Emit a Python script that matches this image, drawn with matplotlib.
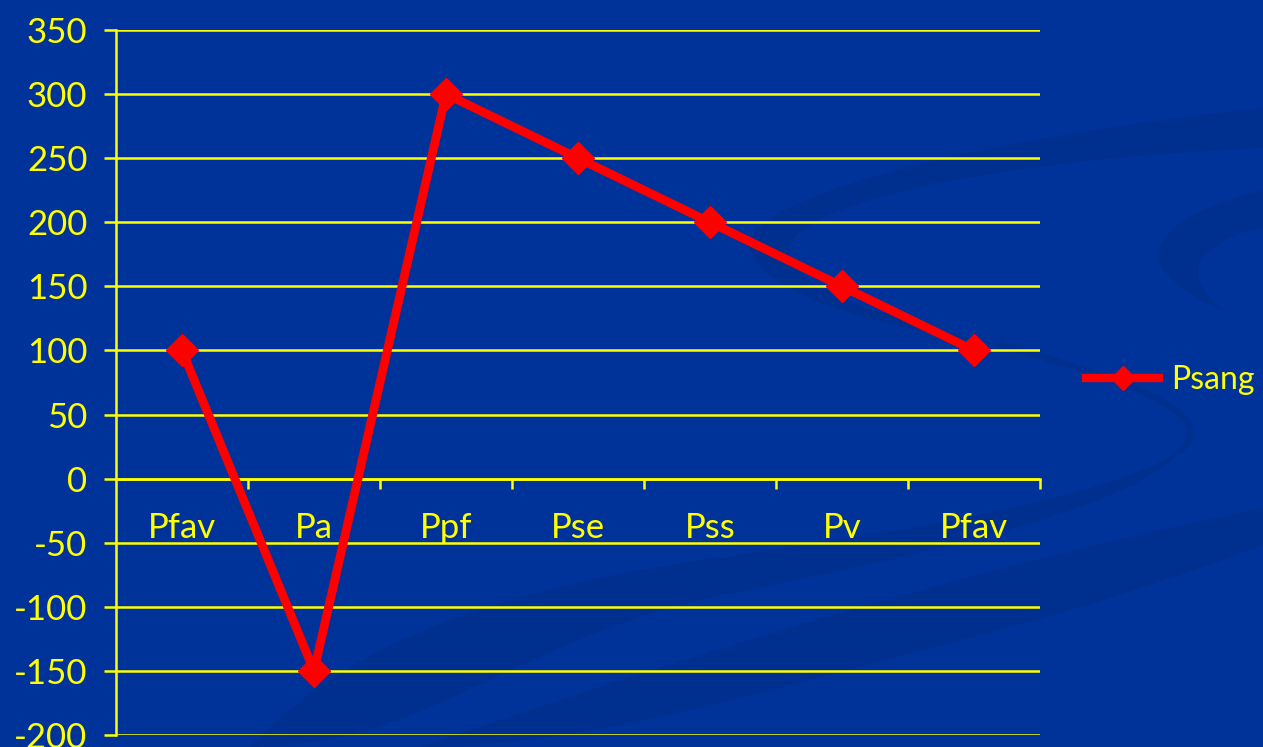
import matplotlib
matplotlib.use("Agg")
import matplotlib.pyplot as plt
from matplotlib.path import Path
from matplotlib.patches import PathPatch
from matplotlib.lines import Line2D

# Data
categories = ["Pfav", "Pa", "Ppf", "Pse", "Pss", "Pv", "Pfav"]
psang = [100, -150, 300, 250, 200, 150, 100]
y_ticks = list(range(-200, 351, 50))
series_name = "Psang"

BG = "#003399"
SWOOSH = "#00308f"
YELLOW = "#ffff00"
RED = "#ff0000"

plt.rcParams["font.family"] = ["Lato", "DejaVu Sans"]

W, H = 1263, 747
fig = plt.figure(figsize=(W / 100, H / 100), dpi=100, facecolor=BG)

# background layer for the decorative swooshes (pixel coords, y downwards)
bg = fig.add_axes([0, 0, 1, 1], zorder=-10)
bg.set_xlim(0, W)
bg.set_ylim(H, 0)
bg.axis("off")
bg.patch.set_visible(False)

M, C = Path.MOVETO, Path.CURVE4


def stroke(pts, lw):
    codes = [M] + [C] * (len(pts) - 1)
    bg.add_patch(PathPatch(Path(pts, codes), fill=False, edgecolor=SWOOSH,
                           lw=lw, capstyle="round"))


def blob(pts):
    codes = [M] + [C] * (len(pts) - 2) + [Path.CLOSEPOLY]
    bg.add_patch(PathPatch(Path(pts, codes), facecolor=SWOOSH,
                           edgecolor="none"))


# upper arm of the S (tapering band)
blob([(1263, 108), (1000, 135), (760, 190), (748, 245),
      (760, 300), (900, 330), (1000, 345),
      (900, 320), (780, 290), (790, 245),
      (810, 200), (1000, 160), (1263, 148), (1263, 148)])
# lower arm of the S
stroke([(1000, 345), (1150, 385), (1220, 420), (1180, 450)], 5)
blob([(1190, 420), (1220, 470), (1000, 520), (700, 560),
      (500, 590), (350, 640), (250, 747),
      (420, 747), (500, 650), (700, 600),
      (1000, 540), (1200, 490), (1190, 420), (1190, 420)])
# bottom band
blob([(1263, 508), (1000, 560), (700, 650), (420, 747),
      (600, 747), (800, 680), (1000, 630),
      (1150, 590), (1263, 545), (1263, 545), (1263, 508)])
# small curl at the right edge
blob([(1263, 190), (1180, 210), (1150, 240), (1160, 265),
      (1175, 290), (1210, 305), (1225, 312),
      (1200, 290), (1190, 270), (1205, 255),
      (1220, 240), (1240, 232), (1263, 228), (1263, 228)])

left, right = 116 / W, 1040 / W
bottom, top = 1 - 735 / H, 1 - 30 / H
ax = fig.add_axes([left, bottom, right - left, top - bottom])
ax.patch.set_visible(False)

x = list(range(len(categories)))
ax.plot(x, psang, color=RED, lw=6.3, marker="D", markersize=16.5,
        markerfacecolor=RED, markeredgecolor=RED,
        zorder=5, clip_on=False)

ax.set_xlim(-0.5, len(categories) - 0.5)
ax.set_ylim(-200, 350)

# horizontal grid
for v in y_ticks:
    ax.axhline(v, color=YELLOW, lw=1.8, zorder=1)

ax.set_yticks(y_ticks)
ax.set_yticklabels([str(v) for v in y_ticks])
ax.tick_params(axis="y", colors=YELLOW, labelcolor=YELLOW, labelsize=25,
               length=8.6, width=1.8, pad=12, direction="out")

# category axis sits at y=0
ax.spines["bottom"].set_position(("data", 0))
ax.spines["bottom"].set_color(YELLOW)
ax.spines["bottom"].set_linewidth(1.8)
ax.set_xticks(x)
ax.set_xticklabels(categories)
ax.set_xticks([i + 0.5 for i in range(len(categories))], minor=True)
ax.tick_params(axis="x", which="major", length=0, pad=24, labelsize=25,
               labelcolor=YELLOW)
ax.tick_params(axis="x", which="minor", length=7, width=1.8, colors=YELLOW,
               direction="out")

ax.spines["left"].set_color(YELLOW)
ax.spines["left"].set_linewidth(1.8)
for s in ("top", "right"):
    ax.spines[s].set_visible(False)

handle = Line2D([], [], color=RED, lw=6, marker="D", markersize=12,
                markerfacecolor=RED, markeredgecolor=RED)
leg = fig.legend([handle], [series_name], loc="center left",
                 bbox_to_anchor=(1086 / W, 1 - 380 / H), frameon=False,
                 fontsize=23, labelcolor=YELLOW, handlelength=2.3,
                 handletextpad=0.35, borderaxespad=0, borderpad=0)

fig.savefig("out.png", dpi=100, facecolor=BG)
